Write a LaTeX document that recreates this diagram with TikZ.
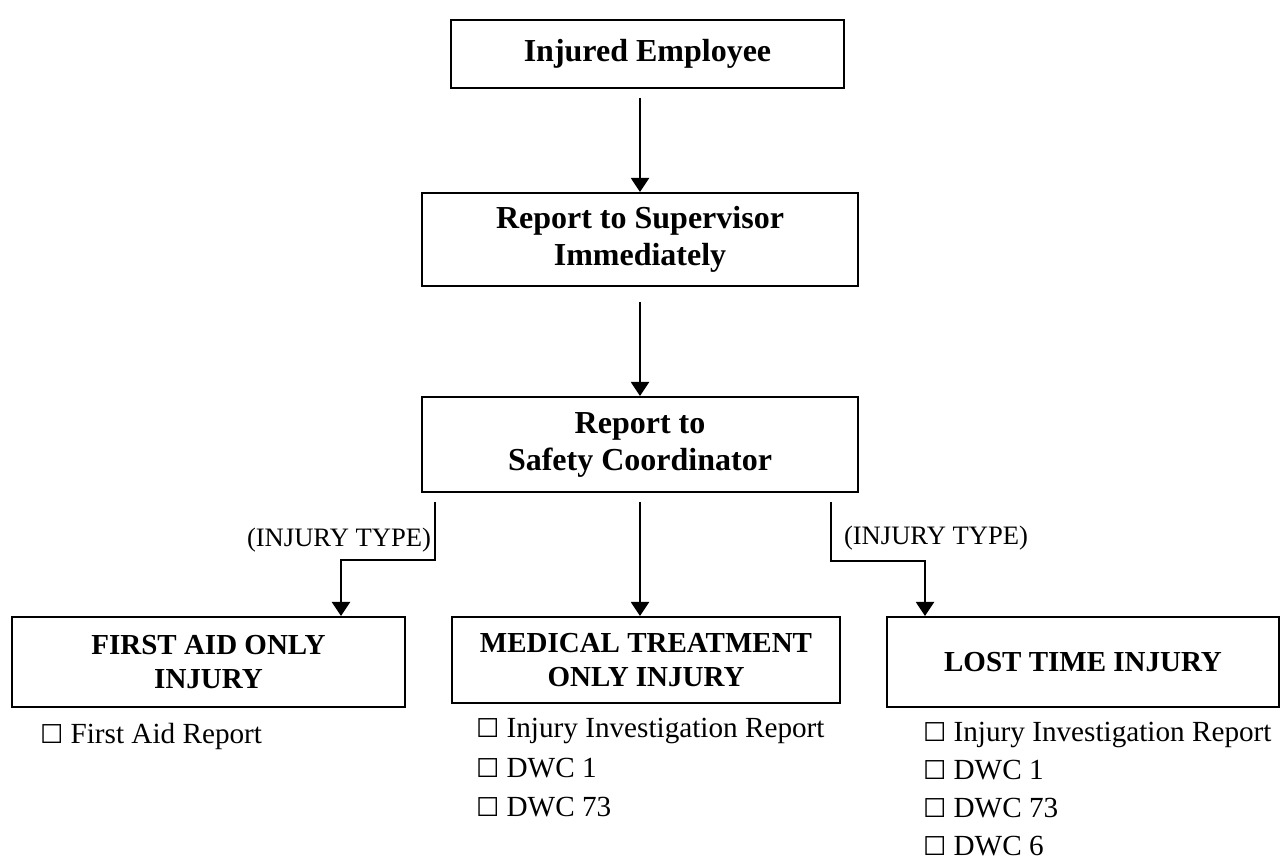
\documentclass[tikz,border=0pt]{standalone}
\usepackage{fontspec}
\setmainfont{Liberation Serif}
\newfontfamily\ballotfont{DejaVu Sans}
\usetikzlibrary{arrows.meta}
\newcommand{\ballot}{{\ballotfont\fontsize{13}{13}\selectfont ☐}}

\begin{document}
\begin{tikzpicture}[x=0.5pt,y=-0.5pt,>={Triangle[length=7pt,width=9pt]},line width=1pt,
        stage box/.style={rectangle,draw,line width=1pt,align=center,inner sep=0pt,
          font=\fontsize{16}{18.5}\selectfont\bfseries},
        type box/.style={rectangle,draw,line width=1pt,align=center,inner sep=0pt,
          font=\fontsize{14.5}{17}\selectfont\bfseries},
        form item/.style={anchor=base west,inner sep=0pt,font=\fontsize{14.6}{19.5}\selectfont},
        branch note/.style={inner sep=0pt,font=\fontsize{13.3}{16}\selectfont}]
        \useasboundingbox (0,0) rectangle (1280,860);
        % main chain
        \node[stage box, minimum width=196.5pt, minimum height=34pt] (emp) at (647.5,54) {Injured Employee};
        \node[stage box, minimum width=218pt, minimum height=46.5pt] (sup) at (640,239.5) {Report to Supervisor\\Immediately};
        \node[stage box, minimum width=218pt, minimum height=47.5pt] (safe) at (640,444.5) {Report to\\Safety Coordinator};
        % injury types
        \node[type box, minimum width=196.5pt, minimum height=45pt] (first) at (208.5,662) {FIRST AID ONLY\\INJURY};
        \node[type box, minimum width=194pt, minimum height=43pt] (med) at (646,660) {MEDICAL TREATMENT\\ONLY INJURY};
        \node[type box, minimum width=196pt, minimum height=45pt] (lost) at (1083,662) {LOST TIME INJURY};
        \node[branch note, anchor=base east] (noteL) at (432,547) {(INJURY TYPE)};
        \node[branch note, anchor=base west] (noteR) at (843,545) {(INJURY TYPE)};
        % forms
        \node[form item] (fa1) at (39,743) {\ballot\ First Aid Report};
        \node[form item] (mt1) at (475,738) {\ballot\ Injury Investigation Report};
        \node[form item] (mt2) at (475,777) {\ballot\ DWC 1};
        \node[form item] (mt3) at (475,816) {\ballot\ DWC 73};
        \node[form item] (lt1) at (922,741) {\ballot\ Injury Investigation Report};
        \node[form item] (lt2) at (922,779) {\ballot\ DWC 1};
        \node[form item] (lt3) at (922,817) {\ballot\ DWC 73};
        \node[form item] (lt4) at (922,855) {\ballot\ DWC 6};
        \draw[->,shorten <=4.5pt] (emp.south -| sup.north) -- (sup.north);
        \draw[->,shorten <=7.5pt] (sup.south) -- (safe.north);
        \draw[->,shorten <=4.5pt] (safe.south) -- (safe.south |- med.north);
        \draw[->,shorten <=4.5pt] ([xshift=7pt]safe.south west) -- ++(0,67) -| ([xshift=-32.5pt]first.north east);
        \draw[->,shorten <=4.5pt] ([xshift=-14pt]safe.south east) -- ++(0,68) -| ([xshift=19.5pt]lost.north west);
\end{tikzpicture}
\end{document}
